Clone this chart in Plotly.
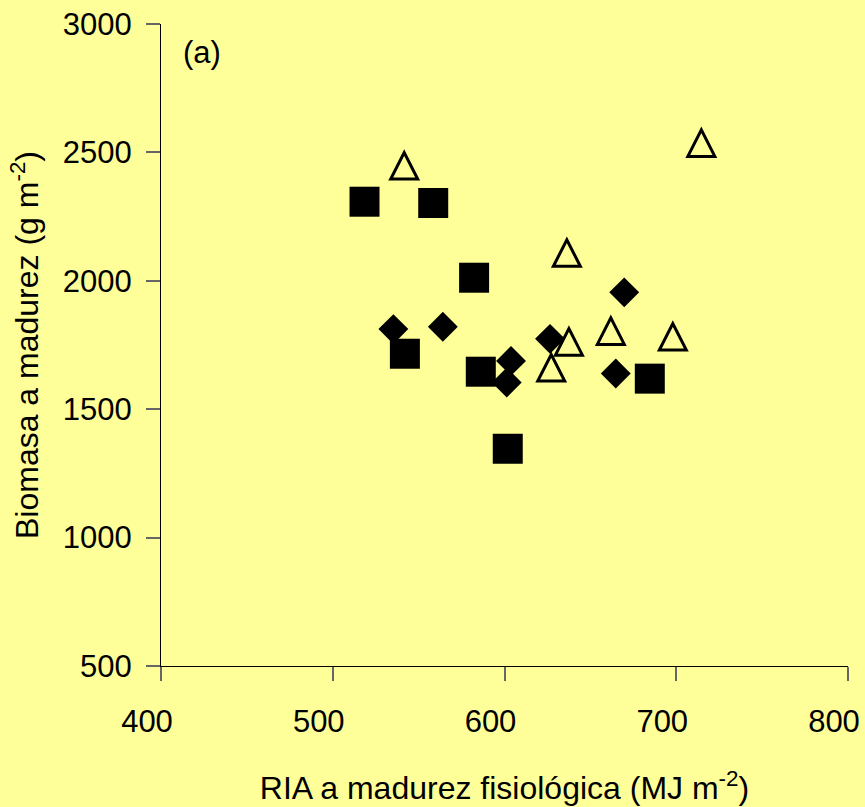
import plotly.graph_objects as go

# Radiación interceptada acumulada (MJ m-2) y biomasa a madurez (g m-2)
sq_x = [518.5, 558.5, 582.3, 542.0, 586.2, 601.9, 684.6]
sq_y = [2308, 2303, 2012, 1716, 1646, 1346, 1619]

dm_x = [669.7, 535.3, 564.1, 626.5, 603.8, 601.3, 664.8]
dm_y = [1955, 1812, 1821, 1774, 1688, 1604, 1639]

tr_x = [541.6, 714.6, 636.3, 661.9, 637.5, 627.2, 698.0]
tr_y = [2449, 2537, 2109, 1805, 1763, 1662, 1783]

x_ticks = [400, 500, 600, 700, 800]
y_ticks = [500, 1000, 1500, 2000, 2500, 3000]

BG = "#FFFF99"
FONT = "Arial, Liberation Sans, sans-serif"

# open triangle outline, in pixels around the data point
TRI_PATH = "M-13.5,-13.5 L13.5,-13.5 L0,13 Z"

fig = go.Figure()
fig.add_trace(go.Scatter(
    x=dm_x, y=dm_y, mode="markers",
    marker=dict(symbol="diamond", size=23, color="black", line=dict(width=0)),
    showlegend=False, cliponaxis=False))
fig.add_trace(go.Scatter(
    x=sq_x, y=sq_y, mode="markers",
    marker=dict(symbol="square", size=30, color="black", line=dict(width=0)),
    showlegend=False, cliponaxis=False))

for tx, ty in zip(tr_x, tr_y):
    fig.add_shape(type="path", xref="x", yref="y",
                  xsizemode="pixel", ysizemode="pixel",
                  xanchor=tx, yanchor=ty, path=TRI_PATH,
                  line=dict(color="black", width=3), fillcolor="rgba(0,0,0,0)",
                  layer="above")

fig.add_annotation(text="(a)", x=0.029, y=0.955, xref="paper", yref="paper",
                   xanchor="left", yanchor="middle", showarrow=False,
                   font=dict(size=31, color="black", family=FONT))

fig.update_layout(
    width=865, height=807,
    margin=dict(l=160.5, r=17, t=24, b=141, pad=0),
    paper_bgcolor=BG, plot_bgcolor=BG,
    font=dict(family=FONT, size=31, color="black"),
    xaxis=dict(range=[400, 800], tickvals=x_ticks, showgrid=False, zeroline=False,
               automargin=False, ticklabeloverflow="allow",
               showline=True, linecolor="black", linewidth=1,
               ticks="outside", ticklen=14, tickwidth=1.5, tickcolor="#666666",
               ticklabelstandoff=14, ticklabelshift=-14,
               title=dict(text="RIA a madurez fisiológica (MJ m<sup>-2</sup>)",
                          standoff=38, font=dict(size=32))),
    yaxis=dict(range=[500, 3000], tickvals=y_ticks, showgrid=False, zeroline=False,
               automargin=False, ticklabeloverflow="allow",
               showline=True, linecolor="black", linewidth=1,
               ticks="outside", ticklen=14, tickwidth=1.5, tickcolor="#666666",
               ticklabelstandoff=8,
               title=dict(text="Biomasa a madurez (g m<sup>-2</sup>)",
                          standoff=14, font=dict(size=32))),
)

fig.write_html("out.html")
